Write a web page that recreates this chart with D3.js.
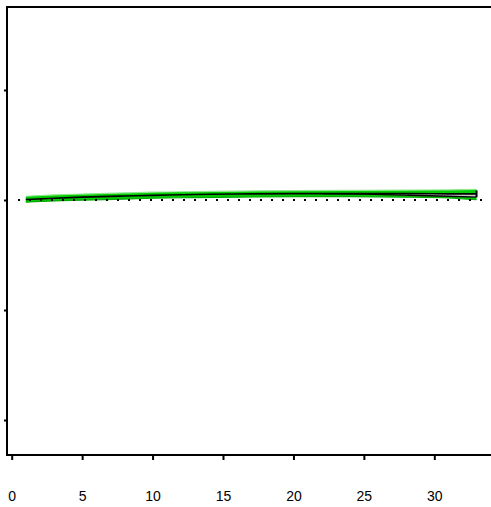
<!DOCTYPE html>
<html>
<head>
<meta charset="utf-8">
<script src="https://cdn.jsdelivr.net/npm/d3@7"></script>
<style>
  html, body { margin: 0; padding: 0; background: #fff; }
  svg { display: block; }
</style>
</head>
<body>
<svg id="chart" width="491" height="507"></svg>
<script>
// Time points (x) and the fitted curve with its envelope
const xs = [1, 3, 5, 8, 10, 13, 16, 20, 24, 28, 31, 33];
const meanVals  = [0.002, 0.008, 0.013, 0.018, 0.021, 0.025, 0.027, 0.029, 0.029, 0.029, 0.028, 0.028];
const upperVals = [0.017, 0.023, 0.027, 0.032, 0.036, 0.038, 0.040, 0.043, 0.044, 0.045, 0.046, 0.048];
const lowerVals = [-0.010, -0.004, -0.001, 0.004, 0.008, 0.011, 0.013, 0.015, 0.015, 0.013, 0.009, 0.001];
// Secondary curve at the tail, shaded against the main curve
const tailXs = [22, 25, 28, 31, 33];
const tailVals = [0.029, 0.027, 0.022, 0.017, 0.013];

const xTicks = [0, 5, 10, 15, 20, 25, 30];
const yTicks = [-1, -0.5, 0, 0.5];
const refLine = 0;

(function draw() {
  const svg = d3.select("#chart");
  const W = 491;
  const frameLeft = 7, frameTop = 7, frameBottom = 455;

  const x = d3.scaleLinear().domain([0, 30]).range([11.7, 434.3]);
  const y = d3.scaleLinear().domain([-1, 0.5]).range([420, 90]);

  const green = "#00cc00";

  // Envelope band
  const band = d3.area()
    .x((d, i) => x(xs[i]))
    .y0((d, i) => y(lowerVals[i]))
    .y1((d, i) => y(upperVals[i]))
    .curve(d3.curveMonotoneX);
  svg.append("path").datum(xs).attr("d", band).attr("fill", green);

  // Edge lines of the envelope
  const lineOf = vals => d3.line()
    .x((d, i) => x(xs[i]))
    .y((d, i) => y(vals[i]))
    .curve(d3.curveMonotoneX);
  svg.append("path").datum(xs).attr("d", lineOf(upperVals))
    .attr("fill", "none").attr("stroke", "#8fe88f").attr("stroke-width", 1.2);
  svg.append("path").datum(xs).attr("d", lineOf(lowerVals))
    .attr("fill", "none").attr("stroke", "#00a800").attr("stroke-width", 1.2);

  // Tail shading between the main curve and the secondary curve
  const meanAt = d3.scaleLinear().domain(xs).range(meanVals);
  const tailArea = d3.area()
    .x((d, i) => x(tailXs[i]))
    .y0((d, i) => y(tailVals[i]))
    .y1((d, i) => y(meanAt(tailXs[i])))
    .curve(d3.curveMonotoneX);
  svg.append("path").datum(tailXs).attr("d", tailArea).attr("fill", "#c8c8c8");
  svg.append("path").datum(tailXs)
    .attr("d", d3.line().x((d, i) => x(tailXs[i])).y((d, i) => y(tailVals[i])).curve(d3.curveMonotoneX))
    .attr("fill", "none").attr("stroke", "#000").attr("stroke-width", 1.3);

  // Main curve
  svg.append("path").datum(xs).attr("d", lineOf(meanVals))
    .attr("fill", "none").attr("stroke", "#000").attr("stroke-width", 1.6);

  // End cap at the last point
  const lastX = xs[xs.length - 1];
  svg.append("line")
    .attr("x1", x(lastX)).attr("x2", x(lastX))
    .attr("y1", y(upperVals[upperVals.length - 1]) + 1)
    .attr("y2", y(tailVals[tailVals.length - 1]))
    .attr("stroke", "#000").attr("stroke-width", 2);

  // Dotted reference line
  svg.append("line")
    .attr("x1", 18).attr("x2", W + 10)
    .attr("y1", y(refLine)).attr("y2", y(refLine))
    .attr("stroke", "#000").attr("stroke-width", 2)
    .attr("stroke-dasharray", "2,9");

  // Frame: left, top and bottom rules
  svg.append("line").attr("x1", frameLeft).attr("x2", frameLeft)
    .attr("y1", frameTop - 1).attr("y2", frameBottom + 1)
    .attr("stroke", "#000").attr("stroke-width", 2);
  svg.append("line").attr("x1", frameLeft - 1).attr("x2", W)
    .attr("y1", frameTop).attr("y2", frameTop)
    .attr("stroke", "#000").attr("stroke-width", 2);
  svg.append("line").attr("x1", frameLeft - 1).attr("x2", W)
    .attr("y1", frameBottom).attr("y2", frameBottom)
    .attr("stroke", "#000").attr("stroke-width", 2);

  // Y ticks (no labels)
  const yAxis = svg.append("g").attr("transform", `translate(${frameLeft},0)`)
    .call(d3.axisLeft(y).tickValues(yTicks).tickSize(3).tickFormat(""));
  yAxis.select(".domain").remove();
  yAxis.selectAll(".tick line").attr("stroke-width", 2);

  // X ticks and labels
  const xAxis = svg.append("g").attr("transform", `translate(0,${frameBottom + 1})`)
    .call(d3.axisBottom(x).tickValues(xTicks).tickSize(4).tickPadding(31));
  xAxis.select(".domain").remove();
  xAxis.selectAll(".tick line").attr("stroke-width", 2);
  xAxis.selectAll(".tick text")
    .attr("font-family", "Arial, 'Liberation Sans', sans-serif")
    .attr("font-size", 14).attr("fill", "#000");
})();
</script>
</body>
</html>
